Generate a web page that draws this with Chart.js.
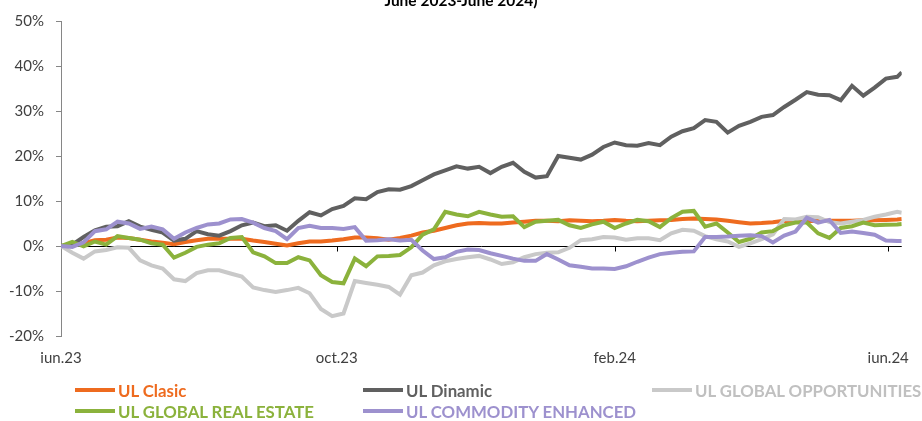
<!DOCTYPE html>
<html>
<head>
<meta charset="utf-8">
<script src="https://cdn.jsdelivr.net/npm/chart.js@4.4.1/dist/chart.umd.min.js"></script>
<style>
html,body{margin:0;padding:0;background:#fff;}
#wrap{position:relative;width:922px;height:421px;overflow:hidden;font-family:Lato,'Open Sans',sans-serif;}
#c{position:absolute;left:0;top:0;}
#title{position:absolute;left:0;width:922px;top:-9px;text-align:center;font-weight:bold;font-size:15.5px;color:#000;}
.lg{position:absolute;height:20px;display:flex;align-items:center;font-weight:bold;font-size:16.8px;white-space:nowrap;}
.lg .s{display:inline-block;width:40px;height:4px;margin-right:3px;}
</style>
</head>
<body>
<div id="wrap">
  <canvas id="c" width="922" height="421"></canvas>
  <div id="title">June 2023-June 2024)</div>
  <div id="legend"></div>
</div>
<script>
// x values: days since 1 June 2023
const days = [0,5,10,15,20,25,30,35,40,45,50,55,60,65,70,75,80,85,90,95,100,105,110,115,120,125,130,135,140,145,150,155,160,165,170,175,180,185,190,195,200,205,210,215,220,225,230,235,240,245,250,255,260,265,270,275,280,285,290,295,300,305,310,315,320,325,330,335,340,345,350,355,360,365,370,372];
const tickDays = [0,122,245,366];
const tickLabels = ['iun.23','oct.23','feb.24','iun.24'];
const titleText = 'June 2023-June 2024)';
const seriesNames = ['UL Clasic','UL Dinamic','UL GLOBAL OPPORTUNITIES','UL GLOBAL REAL ESTATE','UL COMMODITY ENHANCED'];

// cumulative performance, %
const ulClasic = [0,0.2,0.6,1.3,1.4,1.9,1.8,1.4,1.0,0.7, 0.4,0.9,1.3,1.6,1.6,1.6,1.6,1.2,0.9,0.5, 0.1,0.6,1.0,1.0,1.2,1.5,1.9,1.9,1.7,1.4, 1.8,2.3,3.0,3.4,4.0,4.6,5.0,5.1,5.0,5.0, 5.2,5.4,5.6,5.6,5.5,5.7,5.6,5.5,5.6,5.8, 5.6,5.5,5.6,5.7,5.8,6.0,6.1,6.0,5.9,5.6, 5.3,5.0,5.1,5.3,5.6,5.5,5.5,5.6,5.6,5.6, 5.6,5.7,5.7,5.8,5.9,6.0];
const ulDinamic = [0,0.3,2.0,3.5,4.3,4.4,5.5,4.3,3.6,3.0, 1.2,1.6,3.3,2.6,2.3,3.3,4.6,5.2,4.4,4.6, 3.4,5.6,7.5,6.8,8.2,8.9,10.6,10.4,12.0,12.6, 12.5,13.3,14.6,15.9,16.8,17.7,17.2,17.6,16.2,17.6, 18.5,16.5,15.2,15.5,20.0,19.6,19.2,20.3,22.0,23.0, 22.4,22.3,22.9,22.4,24.3,25.5,26.2,28.0,27.6,25.2, 26.7,27.6,28.7,29.1,30.9,32.5,34.2,33.6,33.5,32.4, 35.6,33.4,35.2,37.2,37.6,38.6];
const ulGlobalOpp = [0,-1.5,-2.8,-1.2,-0.9,-0.3,-0.4,-3.2,-4.3,-5.0, -7.4,-7.8,-6.0,-5.4,-5.4,-6.1,-6.8,-9.2,-9.8,-10.2, -9.8,-9.3,-10.5,-14.0,-15.6,-15.0,-7.8,-8.2,-8.6,-9.1, -10.8,-6.5,-5.9,-4.3,-3.4,-2.9,-2.5,-2.2,-3.0,-4.0, -3.6,-2.5,-1.8,-1.5,-1.4,-0.4,1.3,1.5,2.0,1.9, 1.4,1.7,1.7,1.3,2.8,3.6,3.4,2.2,1.5,1.0, -0.2,0.6,1.5,2.6,6.0,5.9,6.5,6.4,5.3,5.0, 5.4,5.8,6.5,7.0,7.6,7.4];
const ulGlobalRE = [0,0.9,-0.1,1.0,0.3,2.2,1.8,1.4,0.6,0.3, -2.6,-1.5,-0.2,0.3,0.6,1.8,2.0,-1.4,-2.3,-3.8, -3.8,-2.5,-3.2,-6.5,-8.0,-8.3,-2.8,-4.5,-2.3,-2.2, -2.0,-0.3,2.5,3.7,7.6,7.0,6.6,7.6,7.0,6.5, 6.6,4.2,5.4,5.6,5.8,4.6,4.0,4.8,5.4,4.0, 5.0,5.8,5.5,4.2,6.2,7.6,7.8,4.3,5.0,3.0, 0.9,1.6,3.0,3.3,4.6,5.2,5.2,2.8,1.8,4.0, 4.4,5.2,4.6,4.7,4.8,4.9];
const ulCommodity = [0,-0.2,0.8,3.3,3.7,5.4,5.0,3.8,4.3,3.7, 1.6,3.0,4.0,4.8,5.0,5.9,6.0,5.2,4.0,3.3, 1.5,4.0,4.5,4.0,4.0,3.8,4.2,1.2,1.3,1.5, 1.2,1.4,-1.0,-2.9,-2.5,-1.3,-0.8,-0.9,-1.6,-2.2, -2.8,-3.3,-3.3,-1.8,-3.0,-4.3,-4.6,-5.0,-5.0,-5.1, -4.5,-3.5,-2.6,-1.8,-1.5,-1.3,-1.2,2.0,2.0,2.1, 2.3,2.4,2.2,0.8,2.3,3.2,6.3,5.2,5.8,2.9, 3.2,2.9,2.5,1.2,1.1,1.1];

const yMin = -20, yMax = 50, yStep = 10;
const colors = ['#EE6B1F','#606060','#C9C9C9','#8BB23C','#9D91CE'];
const legendText = ['#EE6B1F','#606060','#C0C0C0','#8BB23C','#9D91CE'];
const seriesValues = [ulClasic, ulDinamic, ulGlobalOpp, ulGlobalRE, ulCommodity];

document.getElementById('title').textContent = titleText;

const datasets = seriesNames.map((name, i) => ({
  label: name,
  data: days.map((d, j) => ({x: d, y: seriesValues[i][j]})),
  borderColor: colors[i],
  backgroundColor: colors[i],
  borderWidth: 4,
  pointRadius: 0,
  tension: 0,
  fill: false,
  order: seriesNames.length - 1 - i
}));

const zeroLine = {
  id: 'zeroLine',
  beforeDatasetsDraw(chart) {
    const {ctx, chartArea: a, scales: {x, y}} = chart;
    const y0 = Math.round(y.getPixelForValue(0)) + 0.5;
    ctx.save();
    ctx.strokeStyle = '#000';
    ctx.lineWidth = 1;
    ctx.beginPath();
    ctx.moveTo(a.left, y0);
    ctx.lineTo(a.right, y0);
    tickDays.forEach(d => {
      if (d === 0) return;
      const px = Math.round(x.getPixelForValue(d)) + 0.5;
      ctx.moveTo(px, y0);
      ctx.lineTo(px, y0 + 5);
    });
    ctx.stroke();
    ctx.restore();
  }
};

const tickFont = {family: 'Lato', size: 15};

new Chart(document.getElementById('c'), {
  type: 'line',
  data: {datasets},
  plugins: [zeroLine],
  options: {
    responsive: false,
    animation: false,
    devicePixelRatio: 1,
    layout: {padding: {left: 0, right: 12, top: 18, bottom: 55}},
    plugins: {legend: {display: false}, tooltip: {enabled: false}, title: {display: false}},
    scales: {
      x: {
        type: 'linear',
        min: days[0],
        max: days[days.length - 1],
        afterBuildTicks: s => { s.ticks = tickDays.map(v => ({value: v})); },
        afterFit: s => { s.height = 30; },
        ticks: {
          autoSkip: false, maxRotation: 0, padding: 13, color: '#404040', font: tickFont,
          callback: v => { const k = tickDays.indexOf(v); return k >= 0 ? tickLabels[k] : ''; }
        },
        grid: {display: false, drawTicks: false},
        border: {display: false}
      },
      y: {
        min: yMin, max: yMax,
        afterFit: s => { s.width = 61; },
        ticks: {stepSize: yStep, padding: 12, color: '#404040', font: tickFont, callback: v => v + '%'},
        grid: {drawOnChartArea: false, drawTicks: true, tickLength: 5, color: '#868686'},
        border: {display: true, color: '#868686'}
      }
    }
  }
});

// HTML legend built from the series
const legendPos = [[75,380],[363,380],[652,380],[75,401],[363,401]];
const lg = document.getElementById('legend');
seriesNames.forEach((name, i) => {
  const d = document.createElement('div');
  d.className = 'lg';
  d.style.left = legendPos[i][0] + 'px';
  d.style.top = legendPos[i][1] + 'px';
  d.style.color = legendText[i];
  const s = document.createElement('span');
  s.className = 's';
  s.style.background = colors[i];
  d.appendChild(s);
  d.appendChild(document.createTextNode(name));
  lg.appendChild(d);
});
</script>
</body>
</html>
